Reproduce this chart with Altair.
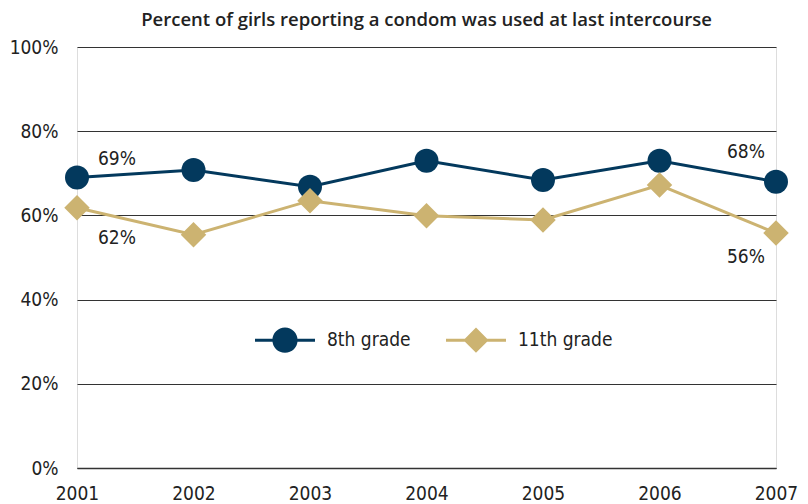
import altair as alt
import pandas as pd

years = [2001, 2002, 2003, 2004, 2005, 2006, 2007]
grade8 = [69, 70.8, 66.8, 73, 68.4, 73, 68]
grade11 = [61.8, 55.4, 63.5, 59.9, 58.9, 67.2, 55.8]
series = ["8th grade", "11th grade"]
colors = ["#03395d", "#ccb371"]
y_ticks = [0, 20, 40, 60, 80, 100]

label_years = [2001, 2001, 2007, 2007]
label_vals = [69, 61.8, 68, 55.8]
label_text = ["69%", "62%", "68%", "56%"]

rows = []
for yr, a, b in zip(years, grade8, grade11):
    rows.append({"year": yr, "value": a, "grade": series[0]})
    rows.append({"year": yr, "value": b, "grade": series[1]})
df = pd.DataFrame(rows)
lab = pd.DataFrame({"year": label_years, "value": label_vals, "text": label_text})

FONT = "Liberation Sans Narrow, DejaVu Sans Condensed, sans-serif"

x = alt.X("year:Q", scale=alt.Scale(domain=[2001, 2007], nice=False, zero=False),
          axis=alt.Axis(values=years, format="d", title=None, grid=False, ticks=False,
                        domain=True, domainColor="#333", domainWidth=1.5,
                        labelPadding=16, labelFontSize=19, labelFont=FONT, labelColor="#222",
                        labelFlush=False))
y = alt.Y("value:Q", scale=alt.Scale(domain=[0, 100], nice=False),
          axis=alt.Axis(values=y_ticks, labelExpr="datum.value + '%'", title=None,
                        grid=True, gridColor="#333", gridWidth=1.2, ticks=False, domain=False,
                        labelPadding=19, labelFontSize=19, labelFont=FONT, labelColor="#222"))

color_scale = alt.Scale(domain=series, range=colors)

seg = "M-1,-0.05H-0.3V0.05H-1Z M0.3,-0.05H1V0.05H0.3Z "
circle_path = seg + "M-0.42,0A0.42,0.42 0 1,1 0.42,0A0.42,0.42 0 1,1 -0.42,0Z"
diamond_path = seg + "M-0.42,0L0,-0.42L0.42,0L0,0.42Z"

legend_kw = dict(
    title=None, orient="none", legendX=178, legendY=263, direction="horizontal",
    symbolSize=3600, labelFontSize=19, labelFont=FONT, labelColor="#222",
    labelOffset=12, columnPadding=35, symbolStrokeWidth=0, symbolOpacity=1,
)
leg = alt.Legend(**legend_kw)
color_enc = alt.Color("grade:N", scale=color_scale, legend=leg)

legend_layer = alt.Chart(df).mark_point(filled=True, size=0).encode(
    x=x, y=y,
    color=color_enc,
    shape=alt.Shape("grade:N", scale=alt.Scale(domain=series, range=[circle_path, diamond_path]),
                    legend=leg),
)

lines = alt.Chart(df).mark_line(strokeWidth=3).encode(
    x=x, y=y, color=color_enc, detail="grade:N")

pts8 = alt.Chart(df).transform_filter(alt.datum.grade == series[0]).mark_point(
    shape="circle", size=576, filled=True, opacity=1).encode(x=x, y=y, color=color_enc)
pts11 = alt.Chart(df).transform_filter(alt.datum.grade == series[1]).mark_point(
    shape="diamond", size=650, filled=True, opacity=1).encode(x=x, y=y, color=color_enc)

def label_layer(i, dx, dy, align):
    return alt.Chart(lab).transform_filter(alt.datum.text == label_text[i]).mark_text(
        dx=dx, dy=dy, align=align, baseline="middle", fontSize=19, font=FONT,
        color="#222").encode(x=x, y=y, text="text:N")

labels = [
    label_layer(0, 21, -19, "left"),
    label_layer(1, 21, 30, "left"),
    label_layer(2, -11, -30, "right"),
    label_layer(3, -11, 24, "right"),
]

chart = alt.layer(legend_layer, lines, pts8, pts11, *labels).properties(
    width=699, height=421,
    title=alt.TitleParams("Percent of girls reporting a condom was used at last intercourse",
                          font="Open Sans", fontSize=18.5, fontWeight=600, color="#222",
                          anchor="middle", offset=9),
    autosize=alt.AutoSizeParams(type="none"),
    padding={"left": 69, "top": 39, "right": 24, "bottom": 36},
).configure_view(stroke="#333", strokeWidth=1.5).configure(background="white")

chart.save("out.html", embed_options={"renderer": "svg", "actions": False})
